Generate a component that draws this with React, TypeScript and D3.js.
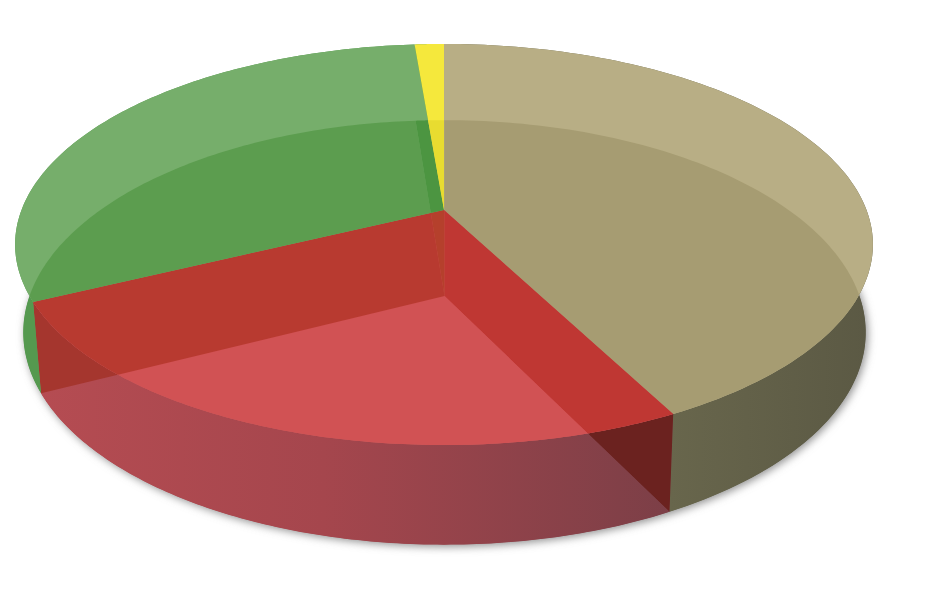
import * as d3 from "d3";

// slice shares, clockwise from 12 o'clock
const categories = ["tan", "red", "green", "yellow"];
const shares = [42.4, 25.4, 30.9, 1.3];

// top face seen on its own, by slice
const TOP_FILL: Record<string, string> = {
  tan: "#b8ae85",
  red: "#d15254",
  green: "#76ae6b",
  yellow: "#f5e83c",
};

// top face over the floor wedge below it: [top][floor]
const TOP_OVER_FLOOR: Record<string, Record<string, string>> = {
  tan: { tan: "#a69c72", red: "#a69c72", green: "#a69c72", yellow: "#a69c72" },
  red: { tan: "#bf3733", red: "#d15254", green: "#b83a30", yellow: "#b5402c" },
  green: { tan: "#5c9d4f", red: "#5c9d4f", green: "#5c9d4f", yellow: "#4c9541" },
  yellow: { tan: "#e8dc30", red: "#e8dc30", green: "#4f9c3c", yellow: "#e8dc30" },
};

// outer wall over the floor wedge: [wall][floor]
const WALL_OVER_FLOOR: Record<string, Record<string, string>> = {
  tan: { tan: "url(#tanWall)", red: "#6b221f", green: "#55994f", yellow: "#55994f" },
  red: { tan: "#6b221f", red: "url(#redWall)", green: "#a5362e", yellow: "#a5362e" },
  green: { tan: "#55994f", red: "#a5362e", green: "#55994f", yellow: "#55994f" },
  yellow: { tan: "#55994f", red: "#a5362e", green: "#55994f", yellow: "#55994f" },
};

const W = 940;
const H = 597;

// a disc tilted away from the viewer: rear is foreshortened
type Face = { cx: number; cy: number; rx: number; ry: number; k: number };
const topFace: Face = { cx: 444, cy: 210, rx: 422.5, ry: 194.6, k: 0.172 };
const floorFace: Face = { cx: 444.5, cy: 296, rx: 415, ry: 206, k: 0.1715 };

const project = (f: Face, a: number): [number, number] => {
  const u = Math.sin(a);
  const v = Math.cos(a);
  const s = 1 / (1 + f.k * v);
  return [f.cx + f.rx * u * s, f.cy - f.ry * v * s];
};

const line = d3.line();

const arcPoints = (f: Face, a0: number, a1: number) =>
  d3.range(0, 121).map((i) => project(f, a0 + ((a1 - a0) * i) / 120));

const wedgePath = (f: Face, a0: number, a1: number) =>
  line([[f.cx, f.cy], ...arcPoints(f, a0, a1)]) + "Z";

const wallPath = (a0: number, a1: number) =>
  line([...arcPoints(topFace, a0, a1), ...arcPoints(floorFace, a1, a0)]) + "Z";

const arcs = d3
  .pie<number>()
  .sort(null)
  .value((d) => d)(shares);

const slices = categories.map((name, i) => ({
  name,
  a0: arcs[i].startAngle,
  a1: arcs[i].endAngle,
}));

export default function App() {
  const floorEllipse = line(arcPoints(floorFace, 0, Math.PI * 2)) + "Z";
  const pairs = d3.cross(slices, slices);

  return (
    <svg
      width={W}
      height={H}
      viewBox={`0 0 ${W} ${H}`}
      style={{ position: "absolute", left: 0, top: 0, display: "block", background: "#fff" }}
    >
      <defs>
        <filter id="soft" x="-10%" y="-10%" width="120%" height="120%">
          <feGaussianBlur stdDeviation="4" />
        </filter>
        <linearGradient id="redWall" gradientUnits="userSpaceOnUse" x1="40" x2="670" y1="0" y2="0">
          <stop offset="0" stopColor="#b54c52" />
          <stop offset="0.45" stopColor="#a5464d" />
          <stop offset="1" stopColor="#7c3f47" />
        </linearGradient>
        <linearGradient id="tanWall" gradientUnits="userSpaceOnUse" x1="670" x2="870" y1="0" y2="0">
          <stop offset="0" stopColor="#68664c" />
          <stop offset="1" stopColor="#5b5944" />
        </linearGradient>
        {slices.map((s) => (
          <g key={s.name}>
            <clipPath id={`top-${s.name}`}>
              <path d={wedgePath(topFace, s.a0, s.a1)} />
            </clipPath>
            <clipPath id={`wall-${s.name}`}>
              <path d={wallPath(s.a0, s.a1)} />
            </clipPath>
          </g>
        ))}
      </defs>

      {/* soft shadow under the disc */}
      <path d={floorEllipse} transform="translate(2,2)" fill="#8f8f8f" filter="url(#soft)" />

      {/* outer walls, coloured by what they cross on the floor */}
      {slices.map((s) => (
        <path key={s.name} d={wallPath(s.a0, s.a1)} fill={WALL_OVER_FLOOR[s.name][s.name]} />
      ))}
      {pairs.map(([wall, floor]) => (
        <g key={`${wall.name}-${floor.name}`} clipPath={`url(#wall-${wall.name})`}>
          <path d={wedgePath(floorFace, floor.a0, floor.a1)} fill={WALL_OVER_FLOOR[wall.name][floor.name]} />
        </g>
      ))}

      {/* top face */}
      {slices.map((s) => (
        <path key={s.name} d={wedgePath(topFace, s.a0, s.a1)} fill={TOP_FILL[s.name]} />
      ))}
      {pairs.map(([top, floor]) => (
        <g key={`${top.name}/${floor.name}`} clipPath={`url(#top-${top.name})`}>
          <path d={wedgePath(floorFace, floor.a0, floor.a1)} fill={TOP_OVER_FLOOR[top.name][floor.name]} />
        </g>
      ))}
    </svg>
  );
}
